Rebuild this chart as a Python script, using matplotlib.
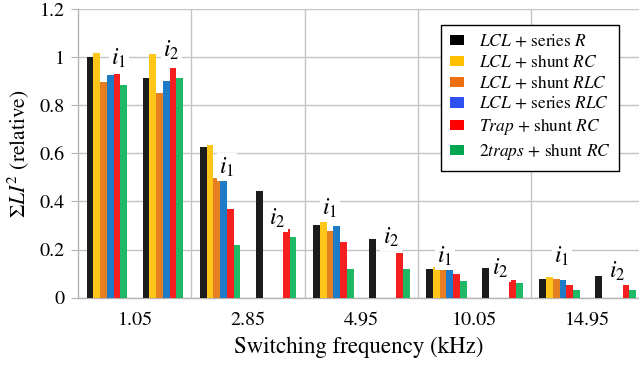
import numpy as np
import matplotlib
matplotlib.use("Agg")
import matplotlib.pyplot as plt
from matplotlib.patches import Patch

plt.rcParams["font.family"] = ["STIXGeneral"]
plt.rcParams["mathtext.fontset"] = "stix"

# Switching frequencies (kHz) on the x axis
freqs = ["1.05", "2.85", "4.95", "10.05", "14.95"]

# Damping topologies (legend order)
labels = [
    r"$LCL$ + series $R$",
    r"$LCL$ + shunt $RC$",
    r"$LCL$ + shunt $RLC$",
    r"$LCL$ + series $RLC$",
    r"$Trap$ + shunt $RC$",
    r"2$traps$ + shunt $RC$",
]

nan = np.nan
# Relative sum of L*I^2, current i1
lcl_series_r_i1 = [1.000, 0.625, 0.302, 0.119, 0.078]
lcl_shunt_rc_i1 = [1.016, 0.633, 0.320, 0.126, 0.084]
lcl_shunt_rlc_i1 = [0.898, 0.499, 0.278, 0.118, 0.078]
lcl_series_rlc_i1 = [0.926, 0.489, 0.298, 0.122, 0.074]
trap_shunt_rc_i1 = [0.930, 0.370, 0.230, 0.097, 0.052]
traps2_shunt_rc_i1 = [0.884, 0.220, 0.121, 0.069, 0.032]

# Relative sum of L*I^2, current i2
lcl_series_r_i2 = [0.912, 0.445, 0.244, 0.123, 0.090]
lcl_shunt_rc_i2 = [1.012, nan, nan, nan, nan]
lcl_shunt_rlc_i2 = [0.850, nan, nan, nan, nan]
lcl_series_rlc_i2 = [0.901, nan, nan, nan, nan]
trap_shunt_rc_i2 = [0.954, 0.286, 0.186, 0.075, 0.054]
traps2_shunt_rc_i2 = [0.913, 0.252, 0.120, 0.062, 0.032]

i1_series = [lcl_series_r_i1, lcl_shunt_rc_i1, lcl_shunt_rlc_i1,
             lcl_series_rlc_i1, trap_shunt_rc_i1, traps2_shunt_rc_i1]
i2_series = [lcl_series_r_i2, lcl_shunt_rc_i2, lcl_shunt_rlc_i2,
             lcl_series_rlc_i2, trap_shunt_rc_i2, traps2_shunt_rc_i2]

bar_colors = ["#1c1c1c", "#ffc61a", "#e67e22", "#1e7bc8", "#f51f1f", "#1eb964"]
legend_colors = ["#000000", "#ffc000", "#ee6f10", "#3050f0", "#ff0000", "#00a550"]

fig = plt.figure(figsize=(6.39, 3.66), dpi=100)
ax = fig.add_axes([0.1225, 0.1866, 1.0 - 0.1225, 0.9754 - 0.1866])

x = np.arange(len(freqs))
bw = 0.0598
group_off = 0.2475
for k in range(6):
    shift = (k - 2.5) * bw
    ax.bar(x - group_off + shift, i1_series[k], width=bw, color=bar_colors[k],
           linewidth=0, zorder=3)
    ax.bar(x + group_off + shift, i2_series[k], width=bw, color=bar_colors[k],
           linewidth=0, zorder=3)

# Current labels above each group: (x, y, text)
tags = [
    (-0.14, 0.996, r"$i_1$"), (0.323, 1.03, r"$i_2$"),
    (0.814, 0.543, r"$i_1$"), (1.255, 0.331, r"$i_2$"),
    (1.723, 0.373, r"$i_1$"), (2.262, 0.252, r"$i_2$"),
    (2.739, 0.173, r"$i_1$"), (3.225, 0.124, r"$i_2$"),
    (3.773, 0.173, r"$i_1$"), (4.258, 0.111, r"$i_2$"),
]
for tx, ty, tt in tags:
    ax.text(tx, ty, tt, ha="center", va="center", fontsize=17, zorder=4,
            bbox=dict(boxstyle="square,pad=0.1", fc="white", ec="none"))

ax.set_xlim(-0.5, 4.453)
ax.set_ylim(0, 1.2)
ax.set_yticks([0, 0.2, 0.4, 0.6, 0.8, 1.0, 1.2])
ax.set_yticklabels(["0", "0.2", "0.4", "0.6", "0.8", "1", "1.2"])
ax.set_xticks(x)
ax.set_xticklabels(freqs)
ax.set_xticks(x[:-1] + 0.5, minor=True)

grid_c = "#c4c4c4"
ax.grid(axis="y", which="major", color=grid_c, linewidth=1.0, zorder=0)
ax.grid(axis="x", which="minor", color=grid_c, linewidth=1.0, zorder=0)
ax.set_axisbelow(True)
for s in ["top", "right"]:
    ax.spines[s].set_visible(False)
for s in ["left", "bottom"]:
    ax.spines[s].set_color("#b4b4b4")
    ax.spines[s].set_linewidth(1.0)
ax.tick_params(axis="y", direction="out", length=5, color="#b4b4b4",
               labelsize=14.5, pad=5)
ax.tick_params(axis="x", which="both", length=0, labelsize=14.5, pad=10)

ax.set_xlabel("Switching frequency (kHz)", fontsize=16.5, labelpad=6)
ax.set_ylabel(r"$\Sigma LI^2$ (relative)", fontsize=15.5, labelpad=6)

handles = [Patch(facecolor=c, edgecolor="none") for c in legend_colors]
leg = ax.legend(handles, labels, loc="upper right",
                bbox_to_anchor=(0.9643, 0.9446), borderaxespad=0,
                fontsize=12.5, frameon=True, fancybox=False,
                edgecolor="black", framealpha=1.0,
                handlelength=0.8, handleheight=0.55,
                handletextpad=0.85, labelspacing=0.22, borderpad=0.5)
leg.get_frame().set_linewidth(1.0)
leg.set_zorder(5)

fig.savefig("out.png", dpi=100)
